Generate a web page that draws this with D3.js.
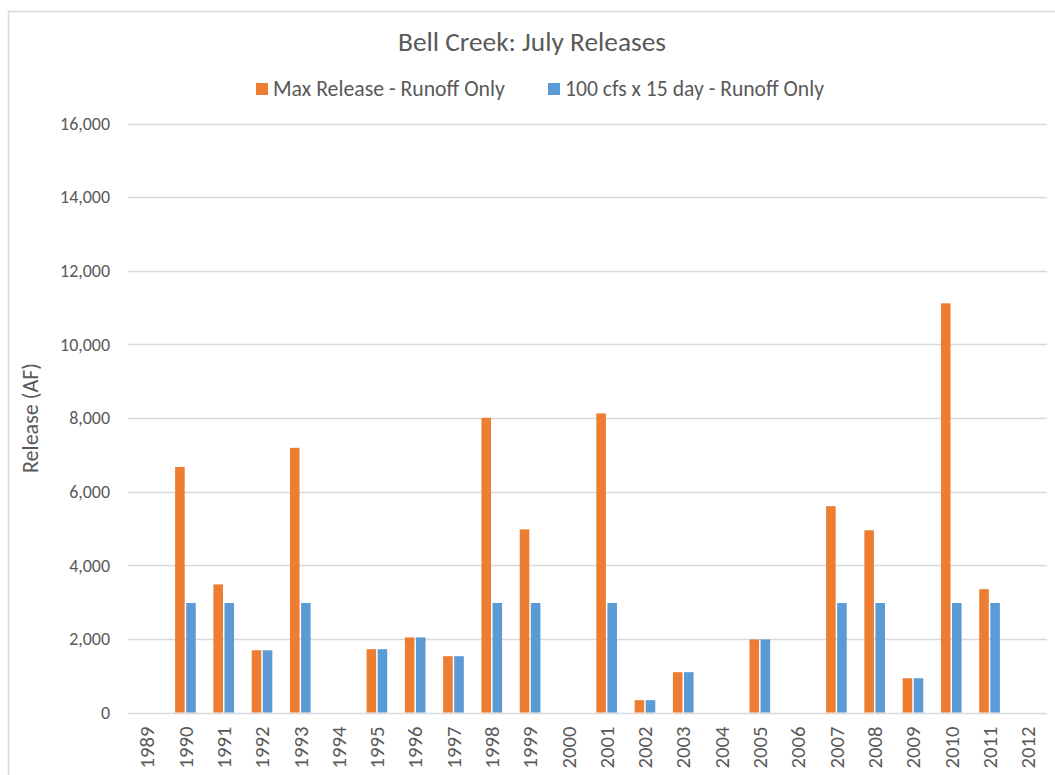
<!DOCTYPE html>
<html><head><meta charset="utf-8">
<script src="https://cdn.jsdelivr.net/npm/d3@7"></script>
<style>body{margin:0;background:#fff;} text{font-family:Carlito,Calibri,Lato,sans-serif;}</style>
</head><body><svg id="c" width="1055" height="775"></svg>
<script>
const years = ["1989","1990","1991","1992","1993","1994","1995","1996","1997","1998","1999","2000","2001","2002","2003","2004","2005","2006","2007","2008","2009","2010","2011","2012"];
const maxRelease = [0,6670,3480,1690,7190,0,1720,2040,1530,8005,4975,0,8125,335,1095,0,1985,0,5605,4950,930,11115,3350,0];
const cfs100x15 = [0,2975,2975,1690,2975,0,1720,2040,1530,2975,2975,0,2975,335,1095,0,1985,0,2975,2975,930,2975,2975,0];
const seriesNames = ["Max Release - Runoff Only","100 cfs x 15 day - Runoff Only"];
const colors = ["#ED7D31","#5B9BD5"];
const yTicks = [0,2000,4000,6000,8000,10000,12000,14000,16000];

const svg = d3.select("#c");
const txt = "#595959";
function fit(sel, target){
  sel.each(function(){
    const fs = parseFloat(this.style.fontSize);
    const w = this.getComputedTextLength();
    if (w>0) this.style.fontSize = (fs*target/w).toFixed(2)+"px";
  });
}
svg.append("rect").attr("x",8.5).attr("y",11.5).attr("width",1100).attr("height",800)
  .attr("fill","#fff").attr("stroke","#d9d9d9").attr("stroke-width",1.5);

const L=128, R=1047, T=123.5, B=712.5;
const x = d3.scaleBand().domain(years).range([L,R]);
const y = d3.scaleLinear().domain([0,16000]).range([B,T]);
const bw = x.bandwidth()*0.25, gap = 1.5;
const sub = d3.scaleOrdinal().domain([0,1]).range([-bw-gap/2, gap/2]);

svg.append("g").selectAll("line").data(yTicks).join("line")
  .attr("x1",L).attr("x2",R).attr("y1",d=>Math.round(y(d))+0.5).attr("y2",d=>Math.round(y(d))+0.5)
  .attr("stroke","#d9d9d9").attr("stroke-width",1.3);

const ya = svg.append("g").attr("transform",`translate(110,0)`)
  .call(d3.axisLeft(y).tickValues(yTicks).tickSize(0).tickFormat(d3.format(",")));
ya.select(".domain").remove();
ya.selectAll("text").attr("fill",txt).style("font-size","18px").style("font-family",null).attr("x",0);
fit(ya.selectAll("text").filter(d=>d===16000), 50);
const yfs = ya.selectAll("text").filter(d=>d===16000).style("font-size");
ya.selectAll("text").style("font-size",yfs);

const data = years.map((yr,i)=>({yr, v:[maxRelease[i], cfs100x15[i]]}));
const grp = svg.append("g").selectAll("g").data(data).join("g")
  .attr("transform",d=>`translate(${x(d.yr)+x.bandwidth()/2},0)`);
grp.selectAll("rect").data(d=>d.v.map((v,k)=>({v,k}))).join("rect")
  .attr("x",d=>sub(d.k)).attr("width",bw)
  .attr("y",d=>y(d.v)).attr("height",d=>B-y(d.v))
  .attr("fill",d=>colors[d.k]);

const xa = svg.append("g").attr("transform",`translate(0,${B})`)
  .call(d3.axisBottom(x).tickSize(0));
xa.select(".domain").remove();
xa.selectAll("text").attr("fill",txt).style("font-size","20px").style("font-family",null)
  .attr("transform","rotate(-90)").attr("text-anchor","end").attr("x",-14).attr("y",0).attr("dy","0.35em");
fit(xa.selectAll("text").filter(d=>d==="1989"), 42);
const xfs = xa.selectAll("text").filter(d=>d==="1989").style("font-size");
xa.selectAll("text").style("font-size",xfs);

const title = svg.append("text").attr("x",532).attr("y",51).attr("text-anchor","middle")
  .attr("fill",txt).style("font-size","26px").text("Bell Creek: July Releases");
fit(title, 268);

const legX = [256, 548], legW = [232, 259];
const lg = svg.append("g").selectAll("g").data(seriesNames).join("g")
  .attr("transform",(d,i)=>`translate(${legX[i]},83)`);
lg.append("rect").attr("width",12).attr("height",12).attr("fill",(d,i)=>colors[i]);
lg.append("text").attr("x",17).attr("y",13).attr("fill",txt).style("font-size","21px").text(d=>d)
  .each(function(d,i){ fit(d3.select(this), legW[i]); });

const yt = svg.append("text").attr("transform","translate(38,418) rotate(-90)").attr("text-anchor","middle")
  .attr("fill",txt).style("font-size","19px").text("Release (AF)");
fit(yt, 110);
</script></body></html>
